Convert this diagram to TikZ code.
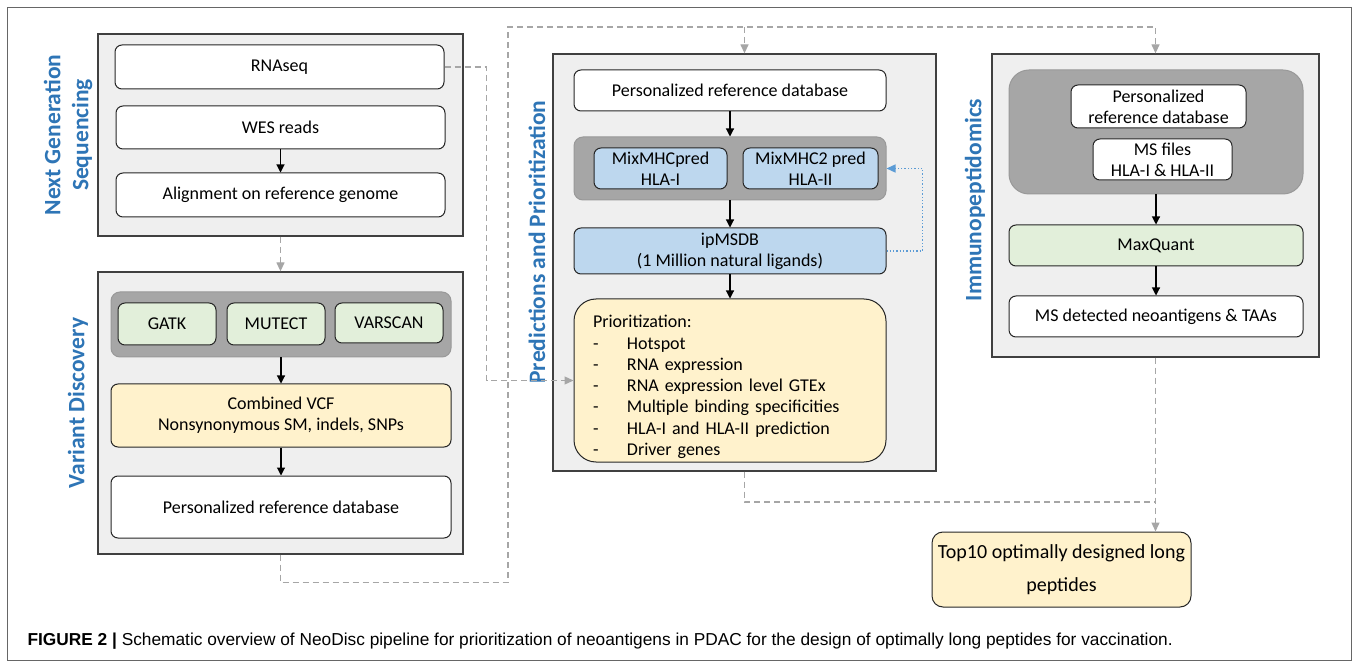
\documentclass[tikz,border=0pt]{standalone}
\usepackage{fontspec}
\setmainfont{Carlito}
\newfontfamily\capfont{Liberation Sans}
\usetikzlibrary{arrows.meta}
\definecolor{panelgray}{HTML}{EFEFEF}
\definecolor{grpgray}{HTML}{A6A6A6}
\definecolor{boxgreen}{HTML}{E2EFDA}
\definecolor{boxyellow}{HTML}{FFF2CC}
\definecolor{boxblue}{HTML}{BDD7EE}
\definecolor{lblue}{HTML}{2E75B6}
\definecolor{dotblue}{HTML}{5B9BD5}
\definecolor{dashgray}{HTML}{A6A6A6}

\begin{document}
\begin{tikzpicture}[x=1pt,y=-1pt,
  panel/.style={draw=black!75,fill=panelgray,line width=1.3pt,inner sep=0pt},
  box/.style={draw=black!85,fill=white,rounded corners=7pt,line width=1pt,align=center,inner sep=0pt,font=\fontsize{18}{21}\selectfont},
  grp/.style={draw=black!40,fill=grpgray,rounded corners=9pt,line width=1pt,inner sep=0pt},
  lbl/.style={text=lblue,rotate=90,align=center,font=\fontsize{23.5}{28}\selectfont\bfseries},
  arr/.style={-{Triangle[length=8pt,width=8pt]},line width=1.1pt},
  dsh/.style={dashgray,dash pattern=on 6pt off 4pt,line width=1.3pt,-{Triangle[length=9pt,width=8pt]}}]
\useasboundingbox (0,0) rectangle (1358,668);
\draw[black!60,line width=1pt] (7,8) rectangle (1351,660);

% next generation sequencing
\node[panel,minimum width=365pt,minimum height=202pt] (ngs) at (280.5,135) {};
\node[lbl] (ngslbl) at (68,135) {Next Generation\\Sequencing};
\node[box,minimum width=329pt,minimum height=44pt] (rna) at (279.5,67) {RNAseq};
\node[box,minimum width=329pt,minimum height=43pt] (wes) at (280.5,127.5) {WES reads};
\node[box,minimum width=329pt,minimum height=44pt] (aln) at (280.5,195) {Alignment on reference genome};
\draw[arr] (wes) -- (aln);

% variant discovery
\node[panel,minimum width=365pt,minimum height=282pt] (vd) at (280.5,413) {};
\node[lbl] (vdlbl) at (78,403) {Variant Discovery};
\node[grp,minimum width=340pt,minimum height=65pt] (vdgrp) at (281,324.5) {};
\node[box,fill=boxgreen,minimum width=98pt,minimum height=42pt] (gatk) at (167,324) {GATK};
\node[box,fill=boxgreen,minimum width=98pt,minimum height=42pt] (mutect) at (276,324) {MUTECT};
\node[box,fill=boxgreen,minimum width=108pt,minimum height=40pt] (varscan) at (389,323) {VARSCAN};
\node[box,fill=boxyellow,minimum width=340pt,minimum height=63pt] (vcf) at (281,415.5) {Combined VCF\\Nonsynonymous SM, indels, SNPs};
\node[box,minimum width=340pt,minimum height=62pt] (prd) at (281,507) {Personalized reference database};
\draw[arr] (vdgrp) -- (vcf);
\draw[arr] (vcf) -- (prd);

% predictions and prioritization
\node[panel,minimum width=383pt,minimum height=417pt] (pred) at (744.5,262.5) {};
\node[lbl] (predlbl) at (537,242) {Predictions and Prioritization};
\node[box,minimum width=312pt,minimum height=41pt] (prd2) at (730,90.5) {Personalized reference database};
\node[grp,minimum width=312pt,minimum height=63pt] (mhcgrp) at (730,168.5) {};
\node[box,fill=boxblue,minimum width=133pt,minimum height=41pt] (mhc1) at (660.5,168.5) {MixMHCpred\\HLA-I};
\node[box,fill=boxblue,minimum width=135pt,minimum height=41pt] (mhc2) at (810.5,168.5) {MixMHC2 pred\\HLA-II};
\node[box,fill=boxblue,minimum width=312pt,minimum height=46pt] (ipms) at (730,251) {ipMSDB\\(1 Million natural ligands)};
\node[box,fill=boxyellow,rounded corners=22pt,minimum width=312pt,minimum height=163pt] (prio) at (730,380.5) {};
\node[text width=274pt,align=left,font=\fontsize{18}{21.3}\selectfont,inner sep=0pt] (priotxt) at (730,387) {Prioritization:\\
\makebox[34pt][l]{-}Hotspot\\
\makebox[34pt][l]{-}RNA expression\\
\makebox[34pt][l]{-}RNA expression level GTEx\\
\makebox[34pt][l]{-}Multiple binding specificities\\
\makebox[34pt][l]{-}HLA-I and HLA-II prediction\\
\makebox[34pt][l]{-}Driver genes};
\draw[arr] (prd2) -- (mhcgrp);
\draw[arr] (mhcgrp) -- (ipms);
\draw[arr] (ipms) -- (prio);
\draw[dotblue,dotted,line width=1.3pt,-{Triangle[length=9pt,width=8pt]}] (ipms.east) -- ++(36,0) |- (mhcgrp.east);

% immunopeptidomics
\node[panel,minimum width=327pt,minimum height=303pt] (im) at (1155.5,205.5) {};
\node[lbl] (imlbl) at (975,200) {Immunopeptidomics};
\node[grp,rounded corners=20pt,minimum width=294pt,minimum height=124pt] (imgrp) at (1156,132) {};
\node[box,minimum width=175pt,minimum height=43pt] (prd3) at (1158.5,106.5) {Personalized\\reference database};
\node[box,minimum width=139pt,minimum height=41pt] (msf) at (1162.5,159.5) {MS files\\HLA-I \& HLA-II};
\node[box,fill=boxgreen,minimum width=294pt,minimum height=41pt] (maxq) at (1156,245.5) {MaxQuant};
\node[box,minimum width=294pt,minimum height=41pt] (msdet) at (1156,316.5) {MS detected neoantigens \& TAAs};
\draw[arr] (imgrp) -- (maxq);
\draw[arr] (maxq) -- (msdet);

% output
\node[box,fill=boxyellow,rounded corners=11pt,minimum width=259pt,minimum height=75pt,font=\fontsize{20}{33}\selectfont] (top) at (1061.5,569.5) {Top10 optimally designed long\\peptides};

% dashed links
\coordinate (topbus) at (508,27);
\coordinate (botbus) at (1155.5,502);
\draw[dsh] (ngs) -- (vd);
\draw[dsh] (rna.east) -- ([xshift=42pt]rna.east) |- (prio.west);
\draw[dsh] (vd.south) -- ++(0,28) -| (topbus) -| (im.north);
\draw[dsh] (topbus -| pred.north) -- (pred.north);
\draw[dsh,-] (pred.south) |- (botbus);
\draw[dsh] (im.south) -- (im.south |- top.north);

\node[anchor=west,font=\capfont\fontsize{17.3}{20}\selectfont] (cap) at (24,641) {\textbf{FIGURE 2 |} Schematic overview of NeoDisc pipeline for prioritization of neoantigens in PDAC for the design of optimally long peptides for vaccination.};
\end{tikzpicture}
\end{document}
